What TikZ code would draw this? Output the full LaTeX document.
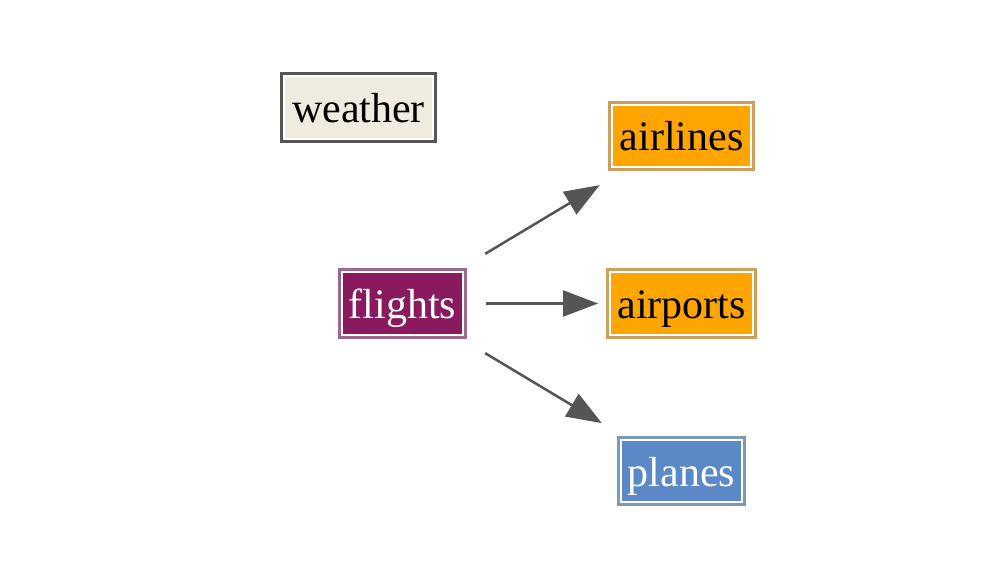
\documentclass[tikz,border=0pt]{standalone}
\usepackage{fontspec}
\setmainfont{Liberation Serif}
\usetikzlibrary{arrows.meta}
\definecolor{wfill}{RGB}{239,235,222}
\definecolor{wbord}{RGB}{85,85,85}
\definecolor{ffill}{RGB}{138,26,94}
\definecolor{fbord}{RGB}{158,104,142}
\definecolor{ofill}{RGB}{255,165,0}
\definecolor{obord}{RGB}{204,160,90}
\definecolor{pfill}{RGB}{91,137,200}
\definecolor{pbord}{RGB}{125,152,189}
\definecolor{edgec}{RGB}{85,85,85}
\tikzset{
  tbl/.style n args={3}{rectangle, inner sep=0pt, outer sep=4pt,
    minimum height=62.5pt, fill=#1, draw=white, line width=2pt,
    preaction={draw=#2, line width=8pt}, text=#3,
    text height=33pt, text depth=3pt,
    font=\fontsize{42}{50}\selectfont},
  fk/.style={draw=edgec, line width=2.5pt,
    -{Triangle[length=35pt,width=26pt]}}
}
\begin{document}
\begin{tikzpicture}[x=1pt,y=-1pt]
\useasboundingbox (0,0) rectangle (1000,580);
\node[tbl={wfill}{wbord}{black}, minimum width=149pt] (weather) at (358.5,107.5) {weather};
\node[tbl={ffill}{fbord}{white}, minimum width=121pt] (flights) at (402.5,303.5) {flights};
\node[tbl={ofill}{obord}{black}, minimum width=139pt] (airlines) at (681.5,136) {airlines};
\node[tbl={ofill}{obord}{black}, minimum width=143pt] (airports) at (681.5,303.5) {airports};
\node[tbl={pfill}{pbord}{white}, minimum width=121pt] (planes) at (681.5,471) {planes};
\draw[fk, shorten <=28pt, shorten >=27pt] (flights) -- (airlines);
\draw[fk, shorten <=19pt, shorten >=8pt] (flights) -- (airports);
\draw[fk, shorten <=28pt, shorten >=24.5pt] (flights) -- (planes);
\end{tikzpicture}
\end{document}
